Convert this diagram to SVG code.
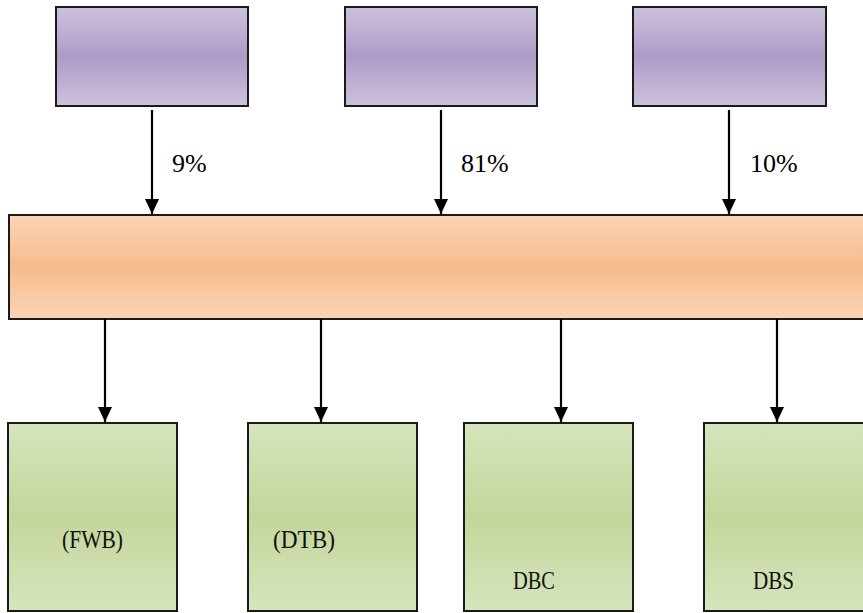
<svg xmlns="http://www.w3.org/2000/svg" width="863" height="613" viewBox="0 0 863 613">
<defs>
<linearGradient id="gPurple" x1="0" y1="0" x2="0" y2="1">
<stop offset="0" stop-color="#cdc1dc"/>
<stop offset="0.5" stop-color="#ad9cc7"/>
<stop offset="1" stop-color="#cdc1dc"/>
</linearGradient>
<linearGradient id="gOrange" x1="0" y1="0" x2="0" y2="1">
<stop offset="0" stop-color="#fbd5b7"/>
<stop offset="0.5" stop-color="#f7ba8b"/>
<stop offset="1" stop-color="#fbd5b7"/>
</linearGradient>
<linearGradient id="gGreen" x1="0" y1="0" x2="0" y2="1">
<stop offset="0" stop-color="#d7e4bd"/>
<stop offset="0.5" stop-color="#c3d69b"/>
<stop offset="1" stop-color="#d7e4bd"/>
</linearGradient>
<marker id="arr" markerUnits="userSpaceOnUse" markerWidth="16" markerHeight="16" viewBox="0 0 16 16" refX="15" refY="8" orient="auto">
<path d="M0,1 L15,8 L0,15 Z" fill="#000"/>
</marker>
</defs>
<style>
.box{stroke:#1a1a1a;stroke-width:2}
.p{fill:url(#gPurple)}
.o{fill:url(#gOrange)}
.g{fill:url(#gGreen)}
.con{stroke:#000;stroke-width:2.2;fill:none;marker-end:url(#arr)}
.pct{font-size:26px;fill:#000}
.lbl{font-size:26px;fill:#111}
.lbl2{font-size:25px;fill:#111}
</style>
<g id="src1"><rect class="box p" x="56" y="7" width="192" height="99"/></g>
<g id="src2"><rect class="box p" x="345" y="7" width="192" height="99"/></g>
<g id="src3"><rect class="box p" x="633" y="7" width="193" height="99"/></g>
<g id="hub"><rect class="box o" x="9" y="215" width="862" height="104"/></g>
<g id="fwb"><rect class="box g" x="8" y="423" width="169" height="188"/>
<text class="lbl2" font-family="Liberation Serif, Times New Roman, serif" x="62" y="548" textLength="61" lengthAdjust="spacingAndGlyphs">(FWB)</text></g>
<g id="dtb"><rect class="box g" x="248" y="423" width="169" height="188"/>
<text class="lbl2" font-family="Liberation Serif, Times New Roman, serif" x="273" y="548" textLength="62" lengthAdjust="spacingAndGlyphs">(DTB)</text></g>
<g id="dbc"><rect class="box g" x="464" y="423" width="169" height="188"/>
<text class="lbl" font-family="Liberation Serif, Times New Roman, serif" x="513" y="589" textLength="42" lengthAdjust="spacingAndGlyphs">DBC</text></g>
<g id="dbs"><rect class="box g" x="704" y="423" width="169" height="188"/>
<text class="lbl" font-family="Liberation Serif, Times New Roman, serif" x="753" y="589" textLength="41" lengthAdjust="spacingAndGlyphs">DBS</text></g>
<g id="connectors">
<line class="con" x1="152" y1="110" x2="152" y2="214"/>
<line class="con" x1="441" y1="110" x2="441" y2="214"/>
<line class="con" x1="729" y1="110" x2="729" y2="214"/>
<line class="con" x1="105" y1="319" x2="105" y2="422"/>
<line class="con" x1="321" y1="319" x2="321" y2="422"/>
<line class="con" x1="561" y1="319" x2="561" y2="422"/>
<line class="con" x1="777" y1="319" x2="777" y2="422"/>
<text class="pct" font-family="Liberation Serif, Times New Roman, serif" x="172" y="172">9%</text>
<text class="pct" font-family="Liberation Serif, Times New Roman, serif" x="461" y="172">81%</text>
<text class="pct" font-family="Liberation Serif, Times New Roman, serif" x="750" y="172">10%</text>
</g>
</svg>
